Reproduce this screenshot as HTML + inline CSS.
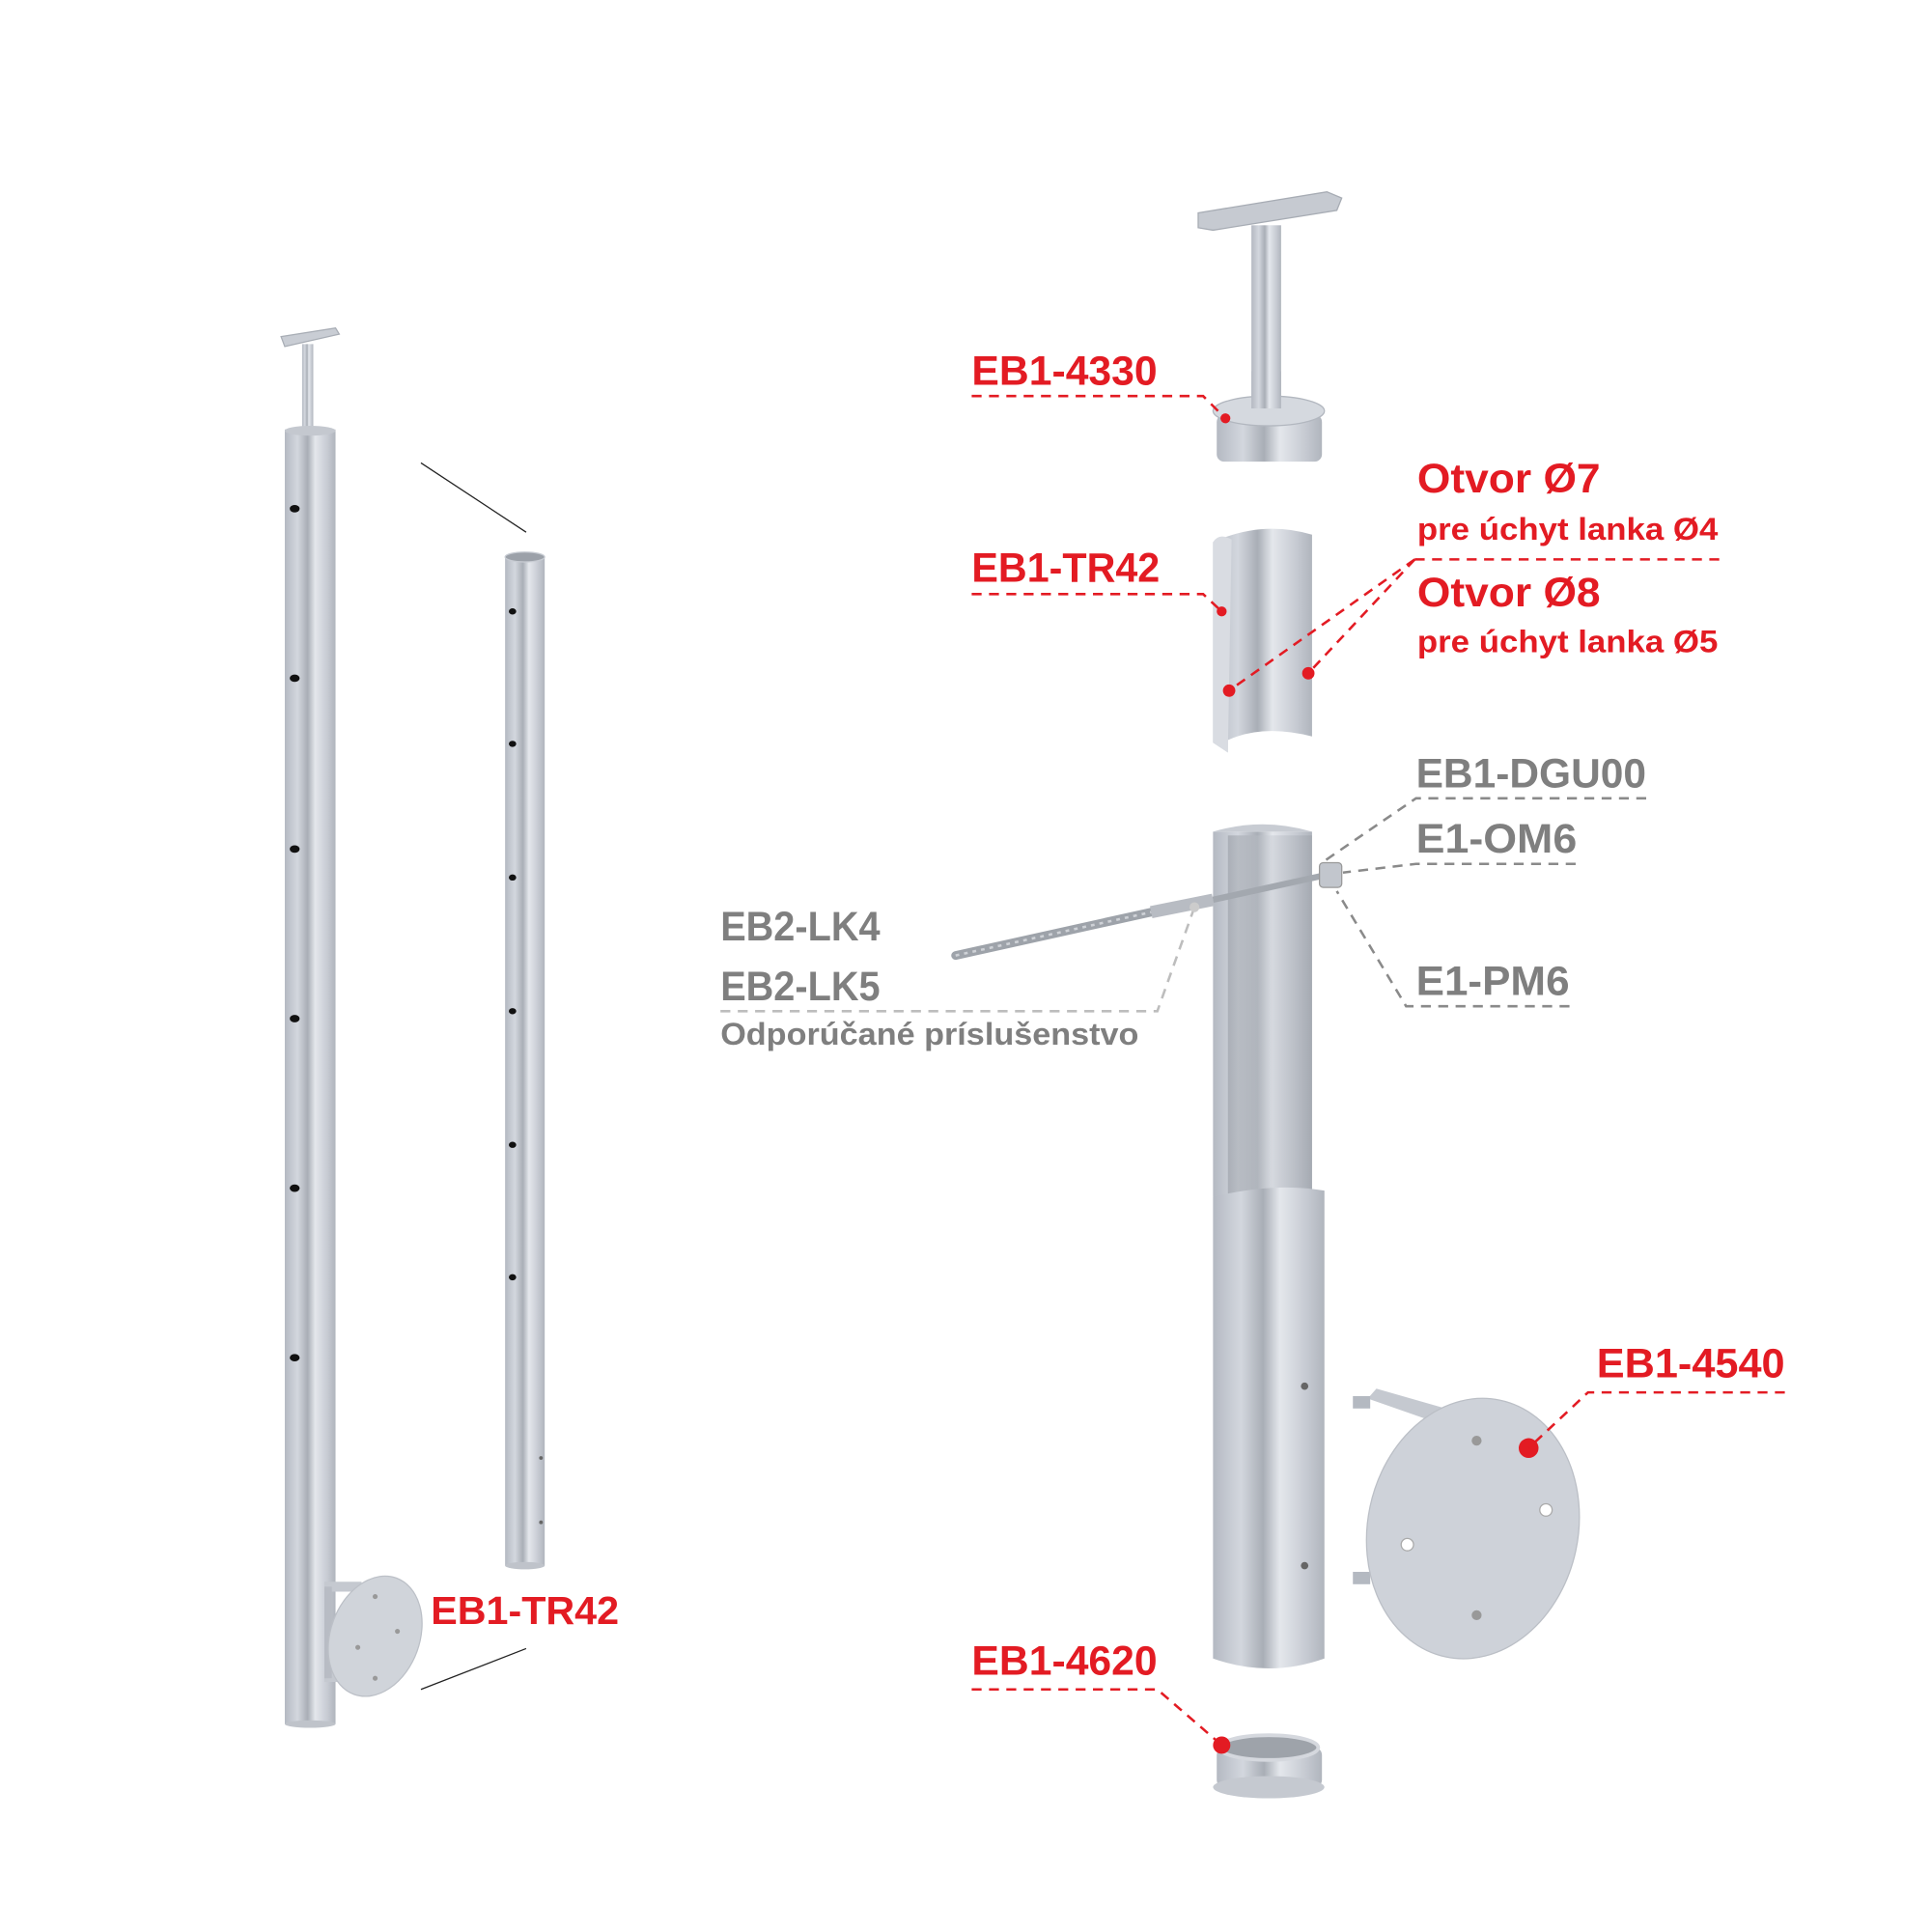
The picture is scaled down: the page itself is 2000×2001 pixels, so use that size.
<!DOCTYPE html>
<html><head><meta charset="utf-8"><style>
html,body{margin:0;padding:0;background:#fff;}
svg{display:block;}
text{font-family:"Liberation Sans",sans-serif;font-weight:bold;}
</style></head><body>
<svg width="2000" height="2001" viewBox="0 0 1560 1561" xmlns="http://www.w3.org/2000/svg">
<defs>
<linearGradient id="tube" x1="0" x2="1" y1="0" y2="0">
<stop offset="0" stop-color="#b4b9c2"/><stop offset="0.25" stop-color="#d3d7de"/><stop offset="0.45" stop-color="#a9aeb6"/><stop offset="0.6" stop-color="#e4e7ec"/><stop offset="0.85" stop-color="#c5c9d1"/><stop offset="1" stop-color="#b0b5bd"/>
</linearGradient>
<linearGradient id="inner" x1="0" x2="1">
<stop offset="0" stop-color="#8e939b"/><stop offset="0.5" stop-color="#c9cdd4"/><stop offset="1" stop-color="#9a9fa7"/>
</linearGradient>
</defs>

<!-- LEFT POST -->
<polygon points="227,272 271,265 274,270 230,280" fill="#c9cdd4" stroke="#a8adb5" stroke-width="1"/>
<rect x="244" y="278" width="9" height="70" fill="url(#tube)"/>
<rect x="230" y="347" width="41" height="1046" fill="url(#tube)"/>
<ellipse cx="250.5" cy="348" rx="20.5" ry="4" fill="#c4c8cf"/>
<ellipse cx="250.5" cy="1393" rx="20.5" ry="3" fill="#bfc3ca"/>
<g fill="#111">
<ellipse cx="238" cy="411" rx="4" ry="3"/><ellipse cx="238" cy="548" rx="4" ry="3"/><ellipse cx="238" cy="686" rx="4" ry="3"/>
<ellipse cx="238" cy="823" rx="4" ry="3"/><ellipse cx="238" cy="960" rx="4" ry="3"/><ellipse cx="238" cy="1097" rx="4" ry="3"/>
</g>
<rect x="262" y="1278" width="30" height="8" fill="#c5c9d0"/>
<rect x="262" y="1351" width="30" height="8" fill="#c5c9d0"/>
<rect x="262" y="1282" width="6" height="74" fill="#b8bcc4"/>
<ellipse cx="303" cy="1322" rx="36" ry="50" transform="rotate(20 303 1322)" fill="#d0d4da" stroke="#bcc0c7"/>
<circle cx="303" cy="1290" r="2" fill="#999"/><circle cx="303" cy="1356" r="2" fill="#999"/><circle cx="289" cy="1331" r="2" fill="#999"/><circle cx="321" cy="1318" r="2" fill="#999"/>
<line x1="340" y1="374" x2="425" y2="430" stroke="#222" stroke-width="1"/>
<line x1="340" y1="1365" x2="425" y2="1332" stroke="#222" stroke-width="1"/>

<!-- MIDDLE TUBE -->
<rect x="408" y="450" width="32" height="815" fill="url(#tube)"/>
<ellipse cx="424" cy="450" rx="16" ry="4" fill="#9ca1a9" stroke="#c8ccd3"/>
<ellipse cx="424" cy="1265" rx="16" ry="3" fill="#bfc3ca"/>
<g fill="#111">
<ellipse cx="414" cy="494" rx="3" ry="2.5"/><ellipse cx="414" cy="601" rx="3" ry="2.5"/><ellipse cx="414" cy="709" rx="3" ry="2.5"/>
<ellipse cx="414" cy="817" rx="3" ry="2.5"/><ellipse cx="414" cy="925" rx="3" ry="2.5"/><ellipse cx="414" cy="1032" rx="3" ry="2.5"/>
</g>
<circle cx="437" cy="1178" r="1.5" fill="#666"/><circle cx="437" cy="1230" r="1.5" fill="#666"/>
<text x="348" y="1312" font-size="32" fill="#e31b23" textLength="152" lengthAdjust="spacingAndGlyphs">EB1-TR42</text>

<!-- RIGHT: handrail saddle -->
<polygon points="968,172 1072,155 1084,160 1080,170 980,186 968,184" fill="#c6cad1" stroke="#a7acb4"/>
<rect x="1011" y="182" width="24" height="150" fill="url(#tube)"/>
<rect x="983" y="335" width="85" height="38" rx="6" fill="url(#tube)"/>
<ellipse cx="1025" cy="332" rx="45" ry="12" fill="#d5d9df" stroke="#b2b7bf"/>
<rect x="1011" y="300" width="24" height="30" fill="url(#tube)"/>

<!-- cut section tube -->
<path d="M980,438 Q1020,420 1060,432 L1060,595 Q1020,585 992,598 L992,608 L980,600 Z" fill="url(#tube)"/>
<path d="M980,438 Q985,430 995,436 L992,608 L980,600 Z" fill="#d9dce2"/>

<!-- long tube -->
<rect x="980" y="672" width="80" height="295" fill="url(#tube)"/>
<path d="M980,672 Q1020,660 1060,672" fill="#c8ccd3"/>
<rect x="992" y="675" width="68" height="290" fill="url(#inner)" opacity="0.5"/>
<path d="M980,967 Q1030,955 1070,962 L1070,1340 Q1025,1356 980,1340 Z" fill="url(#tube)"/>
<circle cx="1054" cy="1120" r="3" fill="#666"/><circle cx="1054" cy="1265" r="3" fill="#666"/>

<!-- cable -->
<line x1="772" y1="772" x2="930" y2="737" stroke="#9ea3aa" stroke-width="7" stroke-linecap="round"/>
<line x1="772" y1="772" x2="930" y2="737" stroke="#cfd2d7" stroke-width="2" stroke-dasharray="3 4"/>
<line x1="930" y1="737" x2="980" y2="727" stroke="#b8bcc3" stroke-width="10"/>
<line x1="980" y1="727" x2="1080" y2="705" stroke="#a3a8af" stroke-width="5"/>
<rect x="1066" y="697" width="18" height="20" rx="3" fill="#c2c6cd" stroke="#999"/>

<!-- base plate right -->
<polygon points="1105,1130 1112,1122 1175,1140 1168,1152" fill="#c5c9d0"/>
<rect x="1093" y="1128" width="14" height="10" fill="#b4b9c1"/>
<rect x="1093" y="1270" width="14" height="10" fill="#b4b9c1"/>
<ellipse cx="1190" cy="1235" rx="85" ry="106" transform="rotate(12 1190 1235)" fill="#ced2d9" stroke="#bbbfc6"/>
<circle cx="1193" cy="1164" r="4" fill="#999"/><circle cx="1193" cy="1305" r="4" fill="#999"/>
<circle cx="1137" cy="1248" r="5" fill="#fff" stroke="#aaa"/><circle cx="1249" cy="1220" r="5" fill="#fff" stroke="#aaa"/>

<!-- bottom ring -->
<rect x="983" y="1412" width="85" height="32" rx="6" fill="url(#tube)"/>
<ellipse cx="1025" cy="1444" rx="45" ry="9" fill="#c5c9d0"/>
<ellipse cx="1025" cy="1412" rx="40" ry="10" fill="#9ea3aa" stroke="#d5d8de" stroke-width="3"/>

<!-- RED LABELS -->
<g fill="#e31b23">
<text x="785" y="311" font-size="33" textLength="150" lengthAdjust="spacingAndGlyphs">EB1-4330</text>
<text x="785" y="470" font-size="33" textLength="152" lengthAdjust="spacingAndGlyphs">EB1-TR42</text>
<text x="1145" y="398" font-size="33" textLength="148" lengthAdjust="spacingAndGlyphs">Otvor Ø7</text>
<text x="1145" y="436" font-size="25" textLength="243" lengthAdjust="spacingAndGlyphs">pre úchyt lanka Ø4</text>
<text x="1145" y="490" font-size="33" textLength="148" lengthAdjust="spacingAndGlyphs">Otvor Ø8</text>
<text x="1145" y="527" font-size="25" textLength="243" lengthAdjust="spacingAndGlyphs">pre úchyt lanka Ø5</text>
<text x="1290" y="1113" font-size="33" textLength="152" lengthAdjust="spacingAndGlyphs">EB1-4540</text>
<text x="785" y="1353" font-size="33" textLength="150" lengthAdjust="spacingAndGlyphs">EB1-4620</text>
<circle cx="990" cy="338" r="4"/><circle cx="987" cy="494" r="4"/><circle cx="993" cy="558" r="5"/><circle cx="1057" cy="544" r="5"/>
<circle cx="1235" cy="1170" r="8"/><circle cx="987" cy="1410" r="7"/>
</g>
<g stroke="#e31b23" stroke-width="2" stroke-dasharray="8 6" fill="none">
<polyline points="785,320 972,320 990,338"/>
<polyline points="785,480 972,480 987,494"/>
<line x1="1143" y1="452" x2="1390" y2="452"/>
<line x1="1143" y1="452" x2="993" y2="558"/>
<line x1="1143" y1="452" x2="1057" y2="544"/>
<polyline points="1442,1125 1283,1125 1235,1170"/>
<polyline points="785,1365 935,1365 987,1410"/>
</g>

<!-- GRAY LABELS -->
<g fill="#7f7f7f">
<text x="1144" y="636" font-size="33" textLength="186" lengthAdjust="spacingAndGlyphs">EB1-DGU00</text>
<text x="1144" y="689" font-size="33" textLength="130" lengthAdjust="spacingAndGlyphs">E1-OM6</text>
<text x="1144" y="804" font-size="33" textLength="124" lengthAdjust="spacingAndGlyphs">E1-PM6</text>
<text x="582" y="760" font-size="33" textLength="129" lengthAdjust="spacingAndGlyphs">EB2-LK4</text>
<text x="582" y="808" font-size="33" textLength="129" lengthAdjust="spacingAndGlyphs">EB2-LK5</text>
<text x="582" y="844" font-size="25" textLength="338" lengthAdjust="spacingAndGlyphs">Odporúčané príslušenstvo</text>
</g>
<g stroke="#8a8a8a" stroke-width="2" stroke-dasharray="8 6" fill="none">
<polyline points="1330,645 1144,645 1068,697"/>
<polyline points="1273,698 1144,698 1085,705"/>
<polyline points="1268,813 1136,813 1080,720"/>
</g>
<g stroke="#bdbdbd" stroke-width="2" stroke-dasharray="8 6" fill="none">
<polyline points="582,817 935,817 965,733"/>
</g>
<circle cx="965" cy="733" r="4" fill="#ccc"/>
</svg>
</body></html>
